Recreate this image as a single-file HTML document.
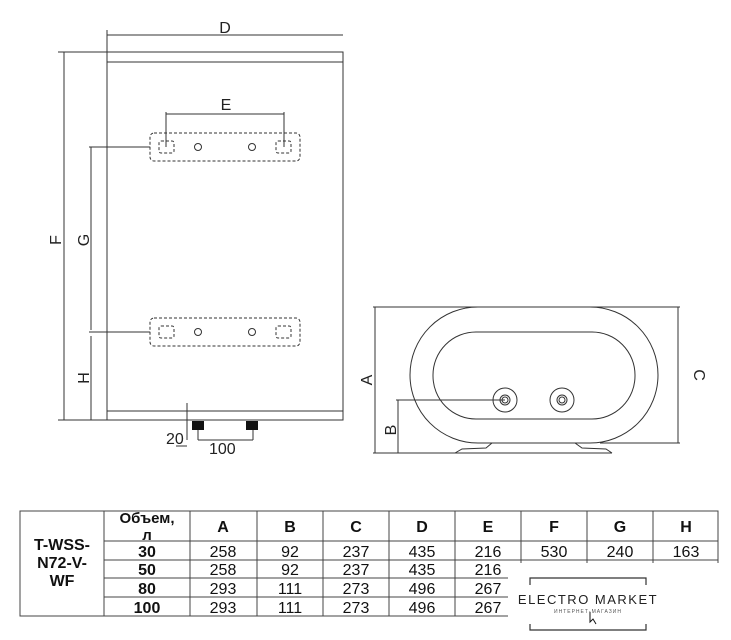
<!DOCTYPE html>
<html><head><meta charset="utf-8"><style>
body{margin:0;background:#fff;width:731px;height:640px;overflow:hidden;position:relative;font-family:"Liberation Sans",sans-serif}
svg{position:absolute;left:0;top:0}
</style></head><body>
<svg width="731" height="640" viewBox="0 0 731 640" font-family="Liberation Sans, DejaVu Sans, sans-serif">
<g stroke="#333" stroke-width="1" fill="none">
<rect x="107" y="52" width="236" height="368"/>
<line x1="107" y1="62" x2="343" y2="62"/>
<line x1="107" y1="411" x2="343" y2="411"/>
<line x1="107" y1="35" x2="343" y2="35"/>
<line x1="107" y1="30" x2="107" y2="52"/>
<line x1="58" y1="52" x2="107" y2="52"/>
<line x1="64" y1="52" x2="64" y2="420"/>
<line x1="58" y1="420" x2="107" y2="420"/>
<line x1="89" y1="147" x2="150" y2="147"/>
<line x1="91" y1="147" x2="91" y2="330"/>
<line x1="89" y1="332" x2="150" y2="332"/>
<line x1="91" y1="336" x2="91" y2="420"/>
<line x1="166" y1="114" x2="284" y2="114"/>
<line x1="166" y1="112" x2="166" y2="147"/>
<line x1="284" y1="112" x2="284" y2="147"/>
<g stroke-dasharray="3,2">
<rect x="150" y="133" width="150" height="28" rx="4"/>
<rect x="159" y="141" width="15" height="12" rx="2"/>
<rect x="276" y="141" width="15" height="12" rx="2"/>
<rect x="150" y="318" width="150" height="28" rx="4"/>
<rect x="159" y="326" width="15" height="12" rx="2"/>
<rect x="276" y="326" width="15" height="12" rx="2"/>
</g>
<circle cx="198" cy="147" r="3.5"/><circle cx="252" cy="147" r="3.5"/>
<circle cx="198" cy="332" r="3.5"/><circle cx="252" cy="332" r="3.5"/>
<line x1="187" y1="403" x2="187" y2="440"/>
<line x1="176" y1="446" x2="187" y2="446"/>
<line x1="198" y1="430" x2="198" y2="440"/>
<line x1="253" y1="430" x2="253" y2="440"/>
<line x1="198" y1="440" x2="253" y2="440"/>
<rect x="410" y="307" width="248" height="136" rx="68"/>
<rect x="433" y="332" width="202" height="87" rx="43"/>
<circle cx="505" cy="400" r="12"/><circle cx="505" cy="400" r="5"/><circle cx="505" cy="400" r="3"/>
<circle cx="562" cy="400" r="12"/><circle cx="562" cy="400" r="5"/><circle cx="562" cy="400" r="3"/>
<line x1="373" y1="307" x2="680" y2="307"/>
<line x1="375" y1="307" x2="375" y2="453"/>
<line x1="373" y1="453" x2="455" y2="453"/>
<line x1="396" y1="400" x2="505" y2="400"/>
<line x1="398" y1="400" x2="398" y2="453"/>
<line x1="678" y1="307" x2="678" y2="443"/>
<line x1="600" y1="443" x2="680" y2="443"/>
<path d="M455 453 L462 449 L486 448 L492 443"/>
<path d="M575 443 L582 448 L606 449 L612 453"/>
<line x1="455" y1="453" x2="612" y2="453"/>
</g>
<rect x="192" y="421" width="12" height="9" fill="#111"/>
<rect x="246" y="421" width="12" height="9" fill="#111"/>
<g fill="#222" font-size="16">
<text x="225" y="33" text-anchor="middle">D</text>
<text x="226" y="110" text-anchor="middle">E</text>
<text x="61" y="240" transform="rotate(-90 61 240)" text-anchor="middle">F</text>
<text x="89" y="240" transform="rotate(-90 89 240)" text-anchor="middle">G</text>
<text x="89" y="378" transform="rotate(-90 89 378)" text-anchor="middle">H</text>
<text x="372" y="380" transform="rotate(-90 372 380)" text-anchor="middle">A</text>
<text x="396" y="430" transform="rotate(-90 396 430)" text-anchor="middle">B</text>
<text x="694" y="375" transform="rotate(90 694 375)" text-anchor="middle">C</text>
<text x="166" y="444">20</text>
<text x="209" y="454">100</text>
</g>
<g stroke="#444" stroke-width="1" fill="none">
<rect x="20" y="511" width="698" height="105"/>
<line x1="104" y1="511" x2="104" y2="616"/>
<line x1="190" y1="511" x2="190" y2="616"/>
<line x1="257" y1="511" x2="257" y2="616"/>
<line x1="323" y1="511" x2="323" y2="616"/>
<line x1="389" y1="511" x2="389" y2="616"/>
<line x1="455" y1="511" x2="455" y2="616"/>
<line x1="521" y1="511" x2="521" y2="616"/>
<line x1="587" y1="511" x2="587" y2="616"/>
<line x1="653" y1="511" x2="653" y2="616"/>
<line x1="104" y1="541" x2="718" y2="541"/>
<line x1="104" y1="560" x2="718" y2="560"/>
<line x1="104" y1="578" x2="718" y2="578"/>
<line x1="104" y1="597" x2="718" y2="597"/>
</g>
<g fill="#111" font-size="16" text-anchor="middle">
<g font-weight="bold">
<text x="62" y="550">T-WSS-</text><text x="62" y="568">N72-V-</text><text x="62" y="586">WF</text>
<text x="147" y="523" font-size="15">Объем,</text><text x="147" y="540" font-size="15">л</text>
<text x="223" y="532">A</text><text x="290" y="532">B</text><text x="356" y="532">C</text><text x="422" y="532">D</text><text x="488" y="532">E</text><text x="554" y="532">F</text><text x="620" y="532">G</text><text x="686" y="532">H</text>
<text x="147" y="557">30</text><text x="147" y="575">50</text><text x="147" y="594">80</text><text x="147" y="613">100</text>
</g>
<text x="223" y="557">258</text><text x="290" y="557">92</text><text x="356" y="557">237</text><text x="422" y="557">435</text><text x="488" y="557">216</text><text x="554" y="557">530</text><text x="620" y="557">240</text><text x="686" y="557">163</text>
<text x="223" y="575">258</text><text x="290" y="575">92</text><text x="356" y="575">237</text><text x="422" y="575">435</text><text x="488" y="575">216</text>
<text x="223" y="594">293</text><text x="290" y="594">111</text><text x="356" y="594">273</text><text x="422" y="594">496</text><text x="488" y="594">267</text>
<text x="223" y="613">293</text><text x="290" y="613">111</text><text x="356" y="613">273</text><text x="422" y="613">496</text><text x="488" y="613">267</text>
</g>
<rect x="508" y="563" width="223" height="77" fill="#fff"/>
<g stroke="#333" fill="none" stroke-width="1.2">
<path d="M530 585 V578 H646 V585"/>
<path d="M530 624 V630 H646 V624"/>
</g>
<text x="588" y="604" text-anchor="middle" font-size="13" letter-spacing="1.5" fill="#222">ELECTRO MARKET</text>
<text x="588" y="613" text-anchor="middle" font-size="5" letter-spacing="1" fill="#555">ИНТЕРНЕТ-МАГАЗИН</text>
<path d="M590 612 L590 622 L593 619 L596 624" stroke="#111" fill="none"/>
</svg>
</body></html>
